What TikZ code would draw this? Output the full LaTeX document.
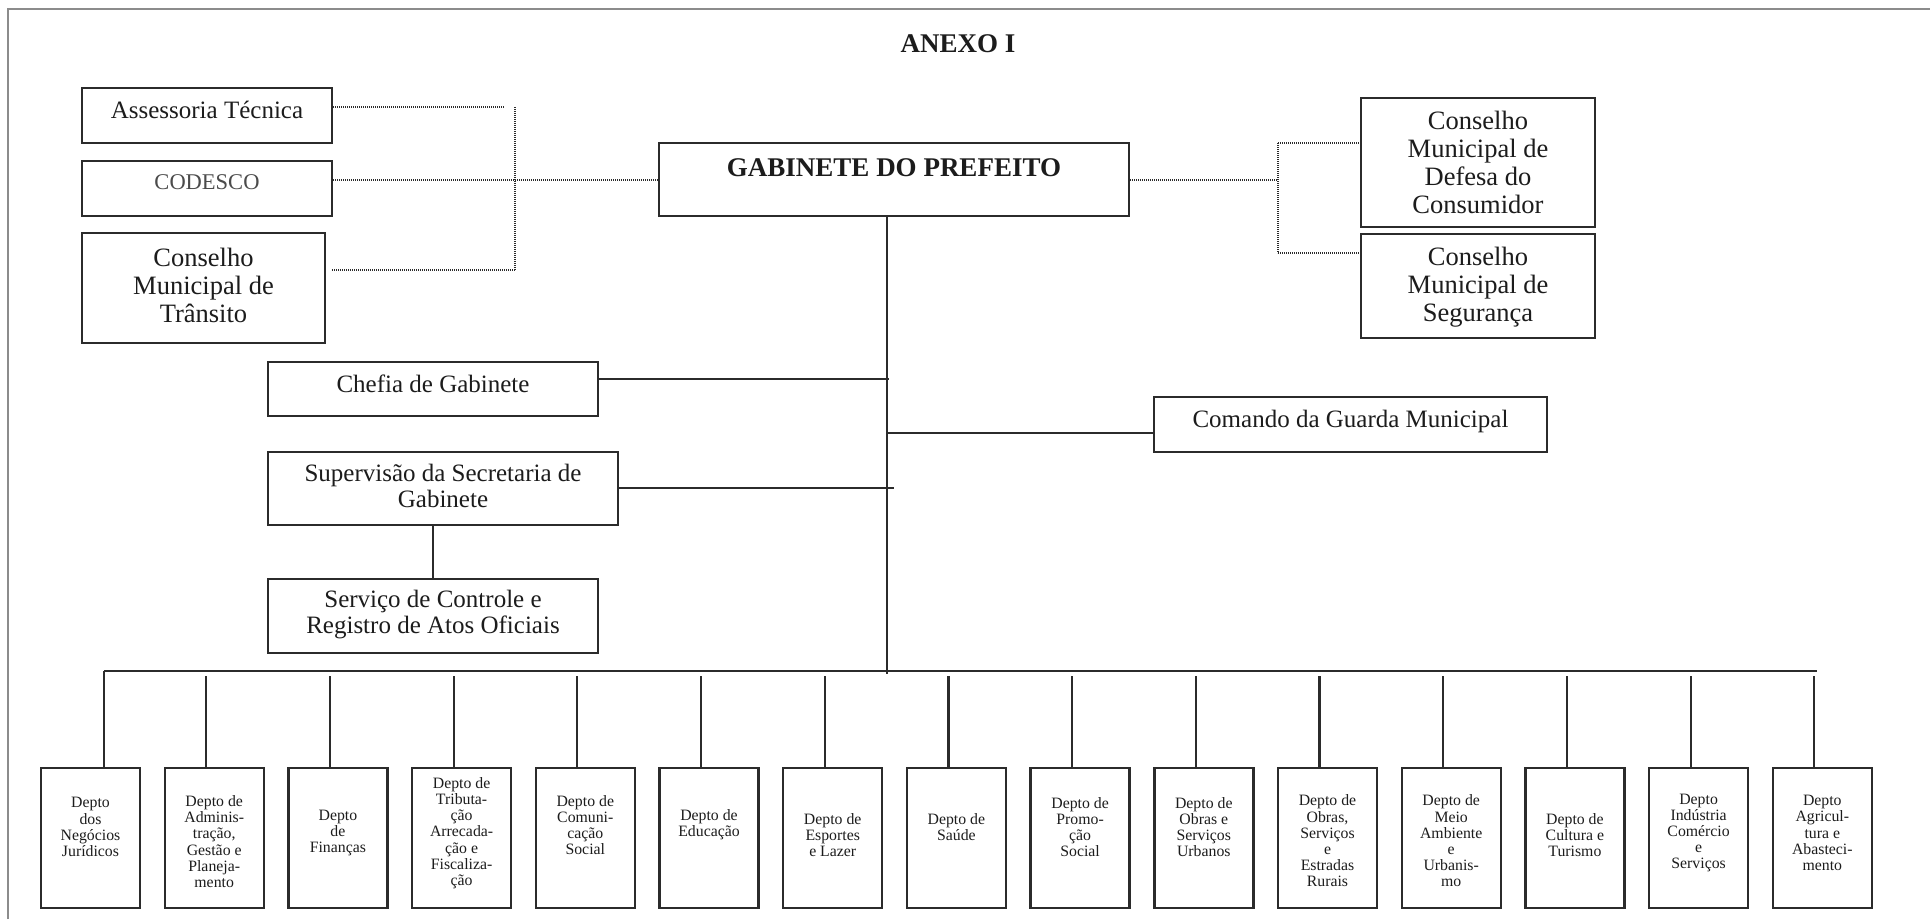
\documentclass[tikz,border=0pt]{standalone}
\usepackage{fontspec}
\setmainfont{Liberation Serif}
\usetikzlibrary{calc}
\definecolor{ink}{HTML}{2B2B2B}
\definecolor{txt}{HTML}{1C1C1C}
\definecolor{framegray}{HTML}{8C8C8C}

\tikzset{
  box/.style={draw=ink, line width=2.4pt, inner sep=0pt, fill=white},
  dbox/.style={box, minimum width=99pt, minimum height=140pt},
  lbl/.style={text=txt, align=center, inner sep=0pt, font=\fontsize{25}{26}\selectfont},
  biglbl/.style={lbl, font=\fontsize{26.5}{28}\selectfont},
  dlbl/.style={lbl, font=\fontsize{15.8}{16.2}\selectfont},
  conn/.style={draw=ink, line width=2.2pt},
  busline/.style={draw=ink, line width=2.6pt},
  dotline/.style={draw=ink, line width=1.5pt, dash pattern=on 1.1pt off 0.9pt},
}

\begin{document}
\begin{tikzpicture}[x=1pt, y=-1pt]
\useasboundingbox (0,0) rectangle (1930,919);

% page frame
\draw[framegray, line width=1.6pt] (8,919) -- (8,9) -- (1930,9);

% title
\node[lbl, font=\bfseries\fontsize{27}{28}\selectfont] (title) at (958,44) {ANEXO I};

% ---- top level ----
\node[box, minimum width=470pt, minimum height=73pt] (gab) at (894,179.5) {};
\node[lbl, font=\bfseries\fontsize{27}{28}\selectfont, yshift=12pt] (gabt) at (gab) {GABINETE DO PREFEITO};

% advisory bodies on the left
\node[box, minimum width=250pt, minimum height=55pt] (asses) at (207,115.5) {};
\node[lbl, yshift=5.5pt] (assest) at (asses) {Assessoria Técnica};
\node[box, minimum width=250pt, minimum height=55pt] (codesco) at (207,188.5) {};
\node[lbl, text=ink!85, font=\fontsize{22.5}{24}\selectfont, yshift=6pt] (codescot) at (codesco) {CODESCO};
\node[box, minimum width=243pt, minimum height=110pt] (transito) at (203.5,288) {};
\node[biglbl, yshift=3pt] (transitot) at (transito) {Conselho\\Municipal de\\Trânsito};

% councils on the right
\node[box, minimum width=234pt, minimum height=129pt] (cons) at (1478,162.5) {};
\node[biglbl] (const) at (cons) {Conselho\\Municipal de\\Defesa do\\Consumidor};
\node[box, minimum width=234pt, minimum height=104pt] (seg) at (1478,286) {};
\node[biglbl, yshift=-1pt] (segt) at (seg) {Conselho\\Municipal de\\Segurança};

% dotted links, left side
\coordinate (ltop) at (515,107);
\coordinate (lmid) at (515,180);
\coordinate (lbot) at (515,270);
\draw[dotline] (asses.east |- ltop) -- ([xshift=-11pt]ltop);
\draw[dotline] (ltop) -- (lbot);
\draw[dotline] (codesco.east |- lmid) -- (gab.west |- lmid);
\draw[dotline] ([xshift=6pt]transito.east |- lbot) -- (lbot);

% dotted links, right side
\coordinate (rtop) at (1278,143);
\coordinate (rmid) at (1278,180);
\coordinate (rbot) at (1278,253);
\draw[dotline] (gab.east |- rmid) -- (rmid);
\draw[dotline] (rtop) -- (rbot);
\draw[dotline] (rtop) -- (cons.west |- rtop);
\draw[dotline] (rbot) -- (seg.west |- rbot);

% ---- staff units ----
\node[box, minimum width=330pt, minimum height=54pt] (chefia) at (433,389) {};
\node[lbl, yshift=5.5pt] (chefiat) at (chefia) {Chefia de Gabinete};
\node[box, minimum width=393pt, minimum height=55pt] (comando) at (1350.5,424.5) {};
\node[lbl, yshift=3.5pt] (comandot) at (comando) {Comando da Guarda Municipal};
\node[box, minimum width=350pt, minimum height=73pt] (superv) at (443,488.5) {};
\node[lbl, yshift=2.5pt] (supervt) at (superv) {Supervisão da Secretaria de\\Gabinete};
\node[box, minimum width=330pt, minimum height=74pt] (servico) at (433,616) {};
\node[lbl, yshift=1pt] (servicot) at (servico) {Serviço de Controle e\\Registro de Atos Oficiais};

% main spine and its branches
\coordinate (spine) at (887,674);
\coordinate (j1) at (889,379);
\coordinate (j2) at (886,433);
\coordinate (j3) at (894,488);
\draw[conn] (gab.south -| spine) -- (spine);
\draw[conn] (chefia.east |- j1) -- (j1);
\draw[conn] (j2) -- (comando.west |- j2);
\draw[conn] (superv.east |- j3) -- (j3);
\draw[conn] (servico.north |- superv.south) -- (servico.north);

% ---- departments ----
\node[dbox] (d1)  at (90.5,838)  {};
\node[dbox] (d2)  at (214.2,838) {};
\node[dbox] (d3)  at (337.9,838) {};
\node[dbox] (d4)  at (461.6,838) {};
\node[dbox] (d5)  at (585.3,838) {};
\node[dbox] (d6)  at (709.0,838) {};
\node[dbox] (d7)  at (832.7,838) {};
\node[dbox] (d8)  at (956.4,838) {};
\node[dbox] (d9)  at (1080.1,838) {};
\node[dbox] (d10) at (1203.8,838) {};
\node[dbox] (d11) at (1327.5,838) {};
\node[dbox] (d12) at (1451.2,838) {};
\node[dbox] (d13) at (1574.9,838) {};
\node[dbox] (d14) at (1698.6,838) {};
\node[dbox] (d15) at (1822.3,838) {};

\node[dlbl, yshift=11pt]   (d1t)  at (d1)  {Depto\\dos\\Negócios\\Jurídicos};
\node[dlbl, yshift=-3.5pt] (d2t)  at (d2)  {Depto de\\Adminis-\\tração,\\Gestão e\\Planeja-\\mento};
\node[dlbl, yshift=5pt]    (d3t)  at (d3)  {Depto\\de\\Finanças};
\node[dlbl, yshift=5pt]    (d4t)  at (d4)  {Depto de\\Tributa-\\ção\\Arrecada-\\ção e\\Fiscaliza-\\ção};
\node[dlbl, yshift=13pt]   (d5t)  at (d5)  {Depto de\\Comuni-\\cação\\Social};
\node[dlbl, yshift=13pt]   (d6t)  at (d6)  {Depto de\\Educação};
\node[dlbl, yshift=3pt]    (d7t)  at (d7)  {Depto de\\Esportes\\e Lazer};
\node[dlbl, yshift=11pt]   (d8t)  at (d8)  {Depto de\\Saúde};
\node[dlbl, yshift=11pt]   (d9t)  at (d9)  {Depto de\\Promo-\\ção\\Social};
\node[dlbl, yshift=11pt]   (d10t) at (d10) {Depto de\\Obras e\\Serviços\\Urbanos};
\node[dlbl, yshift=-3pt]   (d11t) at (d11) {Depto de\\Obras,\\Serviços\\e\\Estradas\\Rurais};
\node[dlbl, yshift=-3pt]   (d12t) at (d12) {Depto de\\Meio\\Ambiente\\e\\Urbanis-\\mo};
\node[dlbl, yshift=3pt]    (d13t) at (d13) {Depto de\\Cultura e\\Turismo};
\node[dlbl, yshift=5pt]    (d14t) at (d14) {Depto\\Indústria\\Comércio\\e\\Serviços};
\node[dlbl, yshift=5pt]    (d15t) at (d15) {Depto\\Agricul-\\tura e\\Abasteci-\\mento};

% bus line and drops to the departments
\coordinate (busL) at (104,671);
\coordinate (busR) at (1817,671);
\coordinate (droptop) at (0,676);
\draw[busline] (busL) -- (busR);
\draw[conn] (busL) -- (d1.north -| busL);
\foreach \i in {2,...,15}
  \draw[conn] ([xshift=-8pt]d\i.north) -- ([xshift=-8pt]d\i.north |- droptop);
\end{tikzpicture}
\end{document}
